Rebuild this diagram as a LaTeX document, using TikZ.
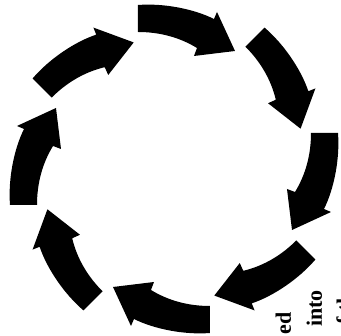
\documentclass[tikz,border=0pt]{standalone}
\usepackage{fontspec}
\setmainfont{Liberation Serif}
\begin{document}
\begin{tikzpicture}[x=1pt, y=1pt,
  cyclearrow/.style={fill=black, draw=none},
  sidetext/.style={rotate=90, font=\fontsize{22}{26}\selectfont\bfseries, inner sep=0pt},
]
  \useasboundingbox (-174,-167) rectangle (167,169);
  % eight arrows round the ring, clockwise
  \foreach \k in {0,...,7}{
    \fill[cyclearrow, rotate=-45*\k] (-36,164) .. controls (-10,166) and (20,160) .. (40,150)
      -- (43,157) -- (61,118) -- (20,113) -- (23,121)
      .. controls (5,132) and (-15,137) .. (-36,137) -- cycle;
  }
  % cut-off text at the lower right
  \node[sidetext, anchor=base east] (ed) at (117,-143) {ed};
  \node[sidetext, anchor=base west] (into) at (148,-158) {into};
  \node[sidetext, anchor=base west] (ofthe) at (178,-167) {of the};
\end{tikzpicture}
\end{document}
